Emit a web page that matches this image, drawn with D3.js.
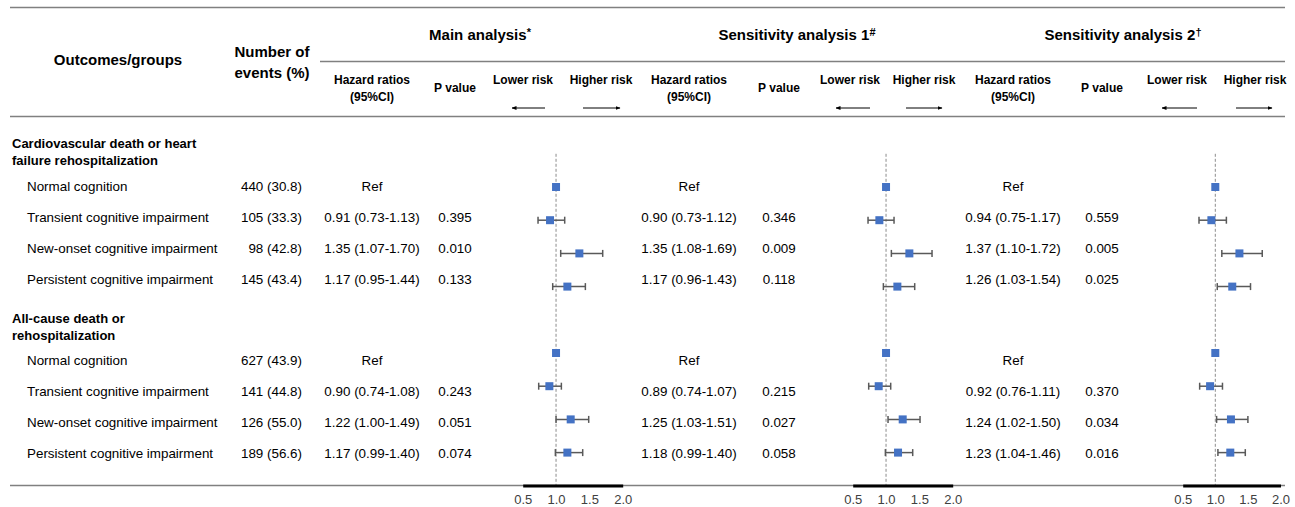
<!DOCTYPE html>
<html><head><meta charset="utf-8">
<script src="https://cdn.jsdelivr.net/npm/d3@7"></script>
<style>
body{margin:0;background:#fff;}
svg text{font-family:Arial,"Liberation Sans",sans-serif;fill:#000;}
</style></head>
<body><svg id="c" width="1295" height="507"></svg>
<script>
// ---------- DATA ----------
const groupTitles = [["Cardiovascular death or heart","failure rehospitalization"],["All-cause death or","rehospitalization"]];
const subgroups = ["Normal cognition","Transient cognitive impairment","New-onset cognitive impairment","Persistent cognitive impairment"];
const events = [["440 (30.8)","105 (33.3)","98 (42.8)","145 (43.4)"],["627 (43.9)","141 (44.8)","126 (55.0)","189 (56.6)"]];
const analysisNames = ["Main analysis", "Sensitivity analysis 1", "Sensitivity analysis 2"];
const analysisMarks = ["*", "#", "\u2020"];
// hazard ratios [group][subgroup] per analysis
const hrMain  = [[1.00,0.91,1.35,1.17],[1.00,0.90,1.22,1.17]];
const loMain  = [[null,0.73,1.07,0.95],[null,0.74,1.00,0.99]];
const hiMain  = [[null,1.13,1.70,1.44],[null,1.08,1.49,1.40]];
const pMain   = [[null,"0.395","0.010","0.133"],[null,"0.243","0.051","0.074"]];
const hrSens1 = [[1.00,0.90,1.35,1.17],[1.00,0.89,1.25,1.18]];
const loSens1 = [[null,0.73,1.08,0.96],[null,0.74,1.03,0.99]];
const hiSens1 = [[null,1.12,1.69,1.43],[null,1.07,1.51,1.40]];
const pSens1  = [[null,"0.346","0.009","0.118"],[null,"0.215","0.027","0.058"]];
const hrSens2 = [[1.00,0.94,1.37,1.26],[1.00,0.92,1.24,1.23]];
const loSens2 = [[null,0.75,1.10,1.03],[null,0.76,1.02,1.04]];
const hiSens2 = [[null,1.17,1.72,1.54],[null,1.11,1.50,1.46]];
const pSens2  = [[null,"0.559","0.005","0.025"],[null,"0.370","0.034","0.016"]];
const xTicks = [0.5, 1.0, 1.5, 2.0];

// ---------- LAYOUT ----------
const svg = d3.select("#c");
const FONT = 13.4;
const lineColor = "#808080";
const panels = [
  {hrX:372, pX:455, lowX:523, highX:601, lowArrow:[545,512], highArrow:[583,620], titleX:480, range:[522.7,622.7], hr:hrMain, lo:loMain, hi:hiMain, p:pMain},
  {hrX:689, pX:779, lowX:850, highX:924, lowArrow:[870,836], highArrow:[906,942], titleX:797, range:[852.7,952.7], hr:hrSens1, lo:loSens1, hi:hiSens1, p:pSens1},
  {hrX:1013, pX:1102, lowX:1177, highX:1255, lowArrow:[1197,1162], highArrow:[1236,1272], titleX:1123, range:[1182.7,1280.5], hr:hrSens2, lo:loSens2, hi:hiSens2, p:pSens2}
];
const textRowY = (g,i) => (g===0 ? 186 : 360) + i*31;
const groupY = [143, 318];
const yF = d3.scaleLinear().domain([-1, 9]).range([153.8, 485.8]);
const slot = (g,i) => g*5 + i;

function txt(x,y,s,opt={}){
  const t = svg.append("text").attr("x",x).attr("y",y).attr("dy","0.35em")
    .style("font-size",(opt.size||FONT)+"px").style("font-weight",opt.bold?"bold":"normal")
    .attr("text-anchor",opt.anchor||"start").text(s);
  if(opt.fill) t.style("fill",opt.fill);
  return t;
}

// rules
svg.append("line").attr("x1",10).attr("x2",1285).attr("y1",7.5).attr("y2",7.5).attr("stroke",lineColor).attr("stroke-width",1.6);
svg.append("line").attr("x1",320).attr("x2",1285).attr("y1",61.5).attr("y2",61.5).attr("stroke",lineColor).attr("stroke-width",1.6);
svg.append("line").attr("x1",10).attr("x2",1285).attr("y1",116.5).attr("y2",116.5).attr("stroke",lineColor).attr("stroke-width",1.6);
svg.append("line").attr("x1",10).attr("x2",1285).attr("y1",485.5).attr("y2",485.5).attr("stroke",lineColor).attr("stroke-width",1.4);

const defs = svg.append("defs");
defs.append("marker").attr("id","ah").attr("viewBox","0 0 10 10").attr("refX",9).attr("refY",5)
  .attr("markerWidth",5).attr("markerHeight",5).attr("orient","auto-start-reverse")
  .append("path").attr("d","M0,1 L10,5 L0,9 z").attr("fill","#000");

// column headers
txt(118,60,"Outcomes/groups",{bold:true,anchor:"middle",size:15});
txt(272,52,"Number of",{bold:true,anchor:"middle",size:15});
txt(272,73,"events (%)",{bold:true,anchor:"middle",size:15});

panels.forEach((P,k)=>{
  const t = txt(P.titleX,35,analysisNames[k],{bold:true,anchor:"middle",size:15});
  t.append("tspan").attr("dy","-0.4em").style("font-size","11px").text(analysisMarks[k]);
  txt(P.hrX,80,"Hazard ratios",{bold:true,anchor:"middle",size:12});
  txt(P.hrX,97,"(95%CI)",{bold:true,anchor:"middle",size:12});
  txt(P.pX,88,"P value",{bold:true,anchor:"middle",size:12});
  txt(P.lowX,80,"Lower risk",{bold:true,anchor:"middle",size:12});
  txt(P.highX,80,"Higher risk",{bold:true,anchor:"middle",size:12});
  svg.append("line").attr("x1",P.lowArrow[0]).attr("x2",P.lowArrow[1]).attr("y1",108).attr("y2",108)
    .attr("stroke","#000").attr("stroke-width",1).attr("marker-end","url(#ah)");
  svg.append("line").attr("x1",P.highArrow[0]).attr("x2",P.highArrow[1]).attr("y1",108).attr("y2",108)
    .attr("stroke","#000").attr("stroke-width",1).attr("marker-end","url(#ah)");
});

// row labels
groupTitles.forEach((lines,g)=>{
  lines.forEach((l,j)=>txt(12,groupY[g]+j*17,l,{bold:true,size:13}));
  subgroups.forEach((s,i)=>{
    const y = textRowY(g,i);
    txt(27,y,s);
    txt(302,y,events[g][i],{anchor:"end"});
  });
});

// panels
panels.forEach((P)=>{
  const x = d3.scaleLinear().domain([0.5,2.0]).range(P.range);
  P.hr.forEach((arr,g)=>{
    arr.forEach((v,i)=>{
      const y = textRowY(g,i);
      if(P.lo[g][i]===null){
        txt(P.hrX,y,"Ref",{anchor:"middle"});
      } else {
        txt(P.hrX,y,`${v.toFixed(2)} (${P.lo[g][i].toFixed(2)}-${P.hi[g][i].toFixed(2)})`,{anchor:"middle"});
        txt(P.pX,y,P.p[g][i],{anchor:"middle"});
      }
    });
  });
  const gF = svg.append("g");
  gF.append("line").attr("x1",x(1)).attr("x2",x(1)).attr("y1",yF(-1)).attr("y2",yF(9))
    .attr("stroke","#8c8c8c").attr("stroke-width",1).attr("stroke-dasharray","3,2");
  const pts = [];
  P.hr.forEach((arr,g)=>arr.forEach((v,i)=>pts.push({v,lo:P.lo[g][i],hi:P.hi[g][i],y:yF(slot(g,i))})));
  const ci = pts.filter(d=>d.lo!==null);
  gF.selectAll(".ci").data(ci).join("line").attr("x1",d=>x(d.lo)).attr("x2",d=>x(d.hi))
    .attr("y1",d=>d.y).attr("y2",d=>d.y).attr("stroke","#595959").attr("stroke-width",1.5);
  gF.selectAll(".capl").data(ci).join("line").attr("x1",d=>x(d.lo)).attr("x2",d=>x(d.lo))
    .attr("y1",d=>d.y-3.5).attr("y2",d=>d.y+3.5).attr("stroke","#595959").attr("stroke-width",1.5);
  gF.selectAll(".capr").data(ci).join("line").attr("x1",d=>x(d.hi)).attr("x2",d=>x(d.hi))
    .attr("y1",d=>d.y-3.5).attr("y2",d=>d.y+3.5).attr("stroke","#595959").attr("stroke-width",1.5);
  gF.selectAll("rect").data(pts).join("rect").attr("x",d=>x(d.v)-4).attr("y",d=>d.y-4)
    .attr("width",8).attr("height",8).attr("fill","#4472C4");
  const ax = svg.append("g").attr("transform","translate(0,485.5)")
    .call(d3.axisBottom(x).tickValues(xTicks).tickFormat(d3.format(".1f")).tickSize(0).tickPadding(9));
  ax.select(".domain").attr("stroke","#000").attr("stroke-width",3);
  ax.selectAll("text").style("font-size","13px").style("fill","#404040").style("font-family","Arial,'Liberation Sans',sans-serif");
});
</script></body></html>
